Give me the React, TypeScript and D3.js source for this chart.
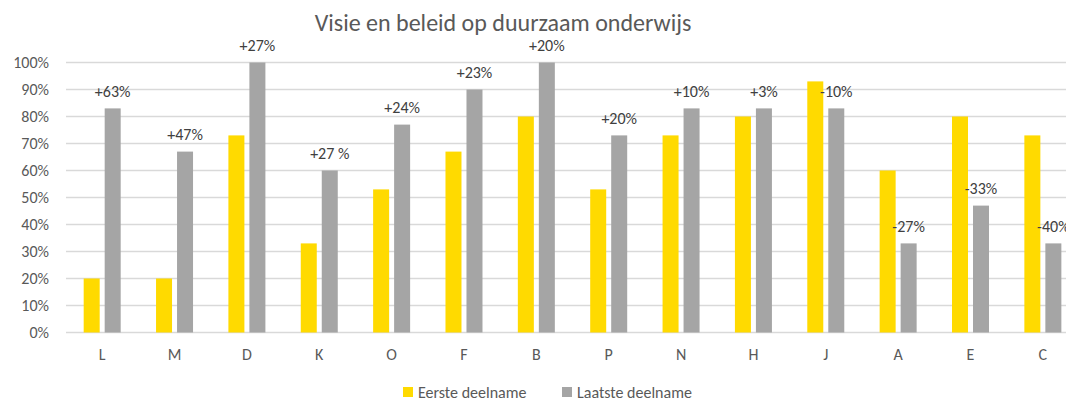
import React, { useEffect, useRef } from 'react';
import * as d3 from 'd3';

const categories = ['L', 'M', 'D', 'K', 'O', 'F', 'B', 'P', 'N', 'H', 'J', 'A', 'E', 'C'];
const eersteDeelname = [20, 20, 73, 33, 53, 67, 80, 53, 73, 80, 93, 60, 80, 73];
const laatsteDeelname = [83, 67, 100, 60, 77, 90, 100, 73, 83, 83, 83, 33, 47, 33];
const changeLabels = ['+63%', '+47%', '+27%', '+27 %', '+24%', '+23%', '+20%', '+20%', '+10%', '+3%', '-10%', '-27%', '-33%', '-40%'];
const yTicks = [0, 10, 20, 30, 40, 50, 60, 70, 80, 90, 100];
const seriesNames = ['Eerste deelname', 'Laatste deelname'];

const YELLOW = '#FFDA00';
const GREY = '#A5A5A5';
const FONT = 'Carlito, Calibri, Lato, "Noto Sans", sans-serif';
const FS = 16;

const App: React.FC = () => {
  const svgRef = useRef<SVGSVGElement>(null);

  useEffect(() => {
    if (!svgRef.current) return;
    const width = 1066;
    const height = 401;
    const svg = d3.select(svgRef.current);
    svg.selectAll('*').remove();

    const left = 66;
    const step = 72.36;
    const x = d3.scaleBand<string>()
      .domain(categories)
      .range([left, left + step * categories.length])
      .paddingInner(0)
      .paddingOuter(0);
    const y = d3.scaleLinear().domain([0, 100]).range([332.5, 62.5]);

    const barW = 16;
    const gap = 5;

    // grid
    svg.append('g')
      .selectAll('line')
      .data(yTicks)
      .join('line')
      .attr('x1', left)
      .attr('x2', width)
      .attr('y1', d => y(d))
      .attr('y2', d => y(d))
      .attr('stroke', '#D9D9D9')
      .attr('stroke-width', 1.5);

    // y labels
    svg.append('g')
      .selectAll('text')
      .data(yTicks)
      .join('text')
      .attr('x', 49)
      .attr('y', d => y(d))
      .attr('dy', '0.35em')
      .attr('text-anchor', 'end')
      .attr('font-family', FONT)
      .attr('font-size', FS)
      .attr('fill', '#595959')
      .text(d => `${d}%`);

    const center = (c: string) => (x(c) ?? 0) + x.bandwidth() / 2;

    // bars
    svg.append('g')
      .selectAll('rect')
      .data(categories)
      .join('rect')
      .attr('x', c => center(c) - gap / 2 - barW)
      .attr('width', barW)
      .attr('y', (c, i) => y(eersteDeelname[i]))
      .attr('height', (c, i) => y(0) - y(eersteDeelname[i]))
      .attr('fill', YELLOW);

    svg.append('g')
      .selectAll('rect')
      .data(categories)
      .join('rect')
      .attr('x', c => center(c) + gap / 2)
      .attr('width', barW)
      .attr('y', (c, i) => y(laatsteDeelname[i]))
      .attr('height', (c, i) => y(0) - y(laatsteDeelname[i]))
      .attr('fill', GREY);

    // change labels above grey bars
    svg.append('g')
      .selectAll('text')
      .data(categories)
      .join('text')
      .attr('x', c => center(c) + gap / 2 + barW / 2)
      .attr('y', (c, i) => y(laatsteDeelname[i]) - 17.5)
      .attr('dy', '0.35em')
      .attr('text-anchor', 'middle')
      .attr('font-family', FONT)
      .attr('font-size', FS)
      .attr('fill', '#404040')
      .text((c, i) => changeLabels[i]);

    // x labels
    svg.append('g')
      .selectAll('text')
      .data(categories)
      .join('text')
      .attr('x', c => center(c))
      .attr('y', 354)
      .attr('dy', '0.35em')
      .attr('text-anchor', 'middle')
      .attr('font-family', FONT)
      .attr('font-size', FS)
      .attr('fill', '#595959')
      .text(c => c);

    // title
    svg.append('text')
      .attr('x', 503)
      .attr('y', 31)
      .attr('text-anchor', 'middle')
      .attr('font-family', FONT)
      .attr('font-size', 24)
      .attr('fill', '#595959')
      .text('Visie en beleid op duurzaam onderwijs');

    // legend
    const legend = [
      { name: seriesNames[0], color: YELLOW, x: 403 },
      { name: seriesNames[1], color: GREY, x: 562 },
    ];
    const lg = svg.append('g');
    legend.forEach(l => {
      lg.append('rect')
        .attr('x', l.x)
        .attr('y', 387)
        .attr('width', 10)
        .attr('height', 10)
        .attr('fill', l.color);
      lg.append('text')
        .attr('x', l.x + 15)
        .attr('y', 392)
        .attr('dy', '0.35em')
        .attr('font-family', FONT)
        .attr('font-size', FS)
        .attr('fill', '#595959')
        .text(l.name);
    });

    svg.attr('width', width).attr('height', height);
  }, []);

  return (
    <svg
      ref={svgRef}
      width={1066}
      height={401}
      style={{ position: 'absolute', left: 0, top: 0, background: '#fff' }}
    />
  );
};

export default App;
